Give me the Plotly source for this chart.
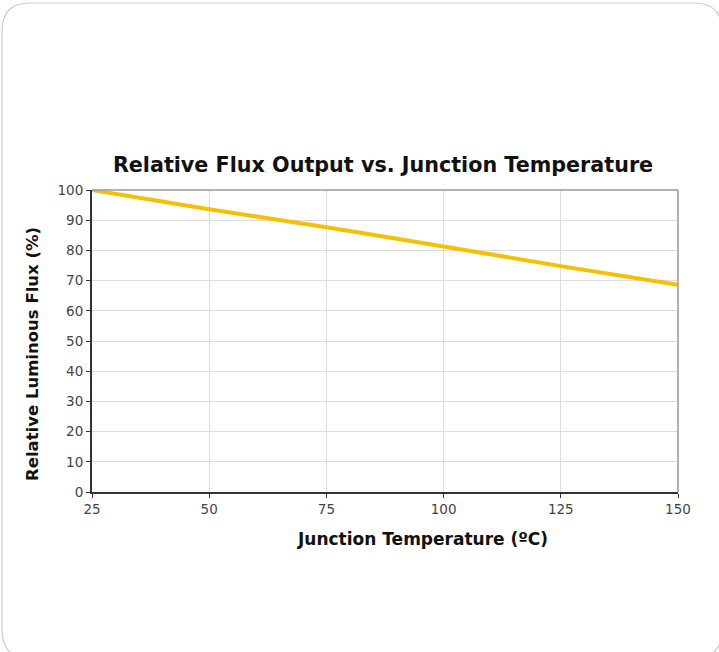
import plotly.graph_objects as go

temps = [25, 50, 75, 100, 125, 150]
flux = [100, 93.6, 87.7, 81.3, 74.8, 68.6]
x_ticks = [25, 50, 75, 100, 125, 150]
y_ticks = [0, 10, 20, 30, 40, 50, 60, 70, 80, 90, 100]

W, H = 719, 652
L, R, T, B = 92, 678, 190, 492

def px(x):
    return (x - L) / (R - L)

def py(y):
    return 1 - (y - T) / (B - T)

fig = go.Figure()
fig.add_trace(go.Scatter(x=temps, y=flux, mode="lines",
                         line=dict(color="#F4C000", width=4, shape="spline", smoothing=0.3),
                         showlegend=False, hoverinfo="skip", cliponaxis=False))

# rounded card
x0, y0, x1, y1, r = 2, 3, 722, 658, 28
path = (f"M {px(x0+r)},{py(y0)} L {px(x1-r)},{py(y0)} "
        f"Q {px(x1)},{py(y0)} {px(x1)},{py(y0+r)} L {px(x1)},{py(y1-r)} "
        f"Q {px(x1)},{py(y1)} {px(x1-r)},{py(y1)} L {px(x0+r)},{py(y1)} "
        f"Q {px(x0)},{py(y1)} {px(x0)},{py(y1-r)} L {px(x0)},{py(y0+r)} "
        f"Q {px(x0)},{py(y0)} {px(x0+r)},{py(y0)} Z")
fig.add_shape(type="path", path=path, xref="paper", yref="paper",
              line=dict(color="#cccccc", width=1.2), layer="below")
# top and right gray border of plot area
fig.add_shape(type="line", xref="paper", yref="paper", x0=0, x1=1, y0=1, y1=1,
              line=dict(color="#999999", width=1.5))
fig.add_shape(type="line", xref="paper", yref="paper", x0=1, x1=1, y0=0, y1=1,
              line=dict(color="#999999", width=1.5))

font_family = "DejaVu Sans, Verdana, sans-serif"
title_font = dict(family=font_family, size=17, color="#111111")
fig.add_annotation(text="<b>Junction Temperature (ºC)</b>", xref="paper", yref="paper",
                   x=px(422), y=py(539), xanchor="center", yanchor="middle",
                   showarrow=False, font=title_font)
fig.add_annotation(text="<b>Relative Luminous Flux (%)</b>", xref="paper", yref="paper",
                   x=px(32), y=py(354), xanchor="center", yanchor="middle", textangle=-90,
                   showarrow=False, font=dict(family=font_family, size=16.5, color="#111111"))

fig.update_layout(
    width=W, height=H,
    margin=dict(l=L, r=W - R, t=T, b=H - B),
    paper_bgcolor="white", plot_bgcolor="white",
    title=dict(text="<b>Relative Flux Output vs. Junction Temperature</b>",
               xref="container", yref="container",
               x=383 / W, xanchor="center", y=1 - 165 / H, yanchor="middle",
               font=dict(family=font_family, size=20.7, color="#111111")),
    xaxis=dict(range=[25, 150], tickvals=x_ticks, showgrid=True, gridcolor="#dddddd", gridwidth=1,
               showline=True, linecolor="#333333", linewidth=2, ticks="outside", ticklen=4,
               tickcolor="#333333", zeroline=False,
               tickfont=dict(family=font_family, size=13.5, color="#444444")),
    yaxis=dict(range=[0, 100], tickvals=y_ticks, showgrid=True, gridcolor="#dddddd", gridwidth=1,
               showline=True, linecolor="#333333", linewidth=2, ticks="outside", ticklen=4,
               tickcolor="#333333", zeroline=False,
               tickfont=dict(family=font_family, size=13.5, color="#444444")),
)
fig.write_html("out.html", config={"displayModeBar": False},
               post_script="document.body.style.margin='0';")
